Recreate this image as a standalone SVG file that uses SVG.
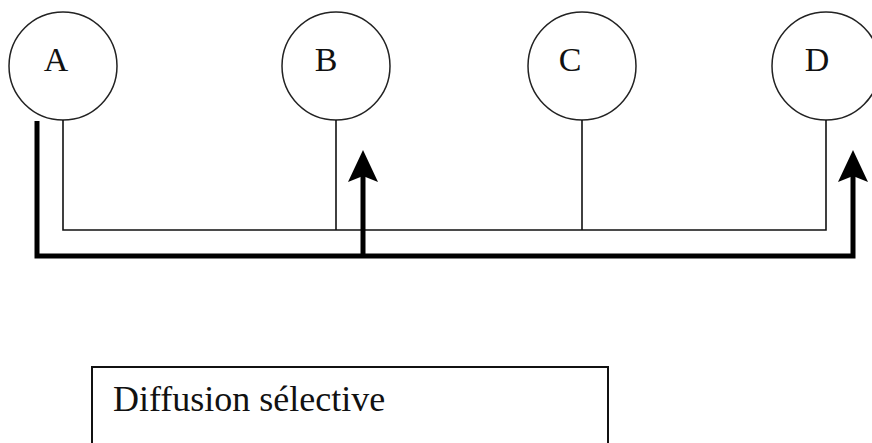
<svg xmlns="http://www.w3.org/2000/svg" width="872" height="443" viewBox="0 0 872 443">
  <style>
    .node circle { fill: #fff; stroke: #222; stroke-width: 1.5; }
    .label { font-family: "Liberation Serif", "Times New Roman", serif; font-size: 34px; fill: #111; text-anchor: middle; }
    .thin { fill: none; stroke: #111; stroke-width: 1.6; }
    .thick { fill: none; stroke: #000; stroke-width: 5; }
    .caption { font-family: "Liberation Serif", "Times New Roman", serif; font-size: 36px; fill: #111; }
  </style>
  <defs>
    <!-- barbed arrowhead, drawn pointing along +x -->
    <marker id="head" viewBox="0 0 32 30" refX="6" refY="15" markerWidth="32" markerHeight="30" markerUnits="userSpaceOnUse" orient="auto">
      <path d="M32 15 L0 0 L6 15 L0 30 Z" fill="#000"/>
    </marker>
  </defs>

  <g id="node-A" class="node">
    <circle cx="63" cy="66" r="54"/>
    <text class="label" x="56" y="71">A</text>
  </g>
  <g id="node-B" class="node">
    <circle cx="336" cy="66" r="54"/>
    <text class="label" x="326" y="71">B</text>
  </g>
  <g id="node-C" class="node">
    <circle cx="582" cy="66" r="54"/>
    <text class="label" x="570" y="71">C</text>
  </g>
  <g id="node-D" class="node">
    <circle cx="826" cy="66" r="54"/>
    <text class="label" x="817" y="71">D</text>
  </g>

  <g id="connectors">
    <!-- shared bus -->
    <polyline class="thin" points="63,120 63,230 826,230 826,120"/>
    <line class="thin" x1="336" y1="120" x2="336" y2="230"/>
    <line class="thin" x1="582" y1="120" x2="582" y2="230"/>
    <!-- selective delivery path from A -->
    <polyline class="thick" points="37,121 37,256 853,256 853,176" marker-end="url(#head)"/>
    <line class="thick" x1="363" y1="256" x2="363" y2="176" marker-end="url(#head)"/>
  </g>

  <g id="caption">
    <rect x="92" y="367" width="516" height="100" fill="#fff" stroke="#111" stroke-width="2"/>
    <text class="caption" x="113" y="411">Diffusion sélective</text>
  </g>
</svg>
